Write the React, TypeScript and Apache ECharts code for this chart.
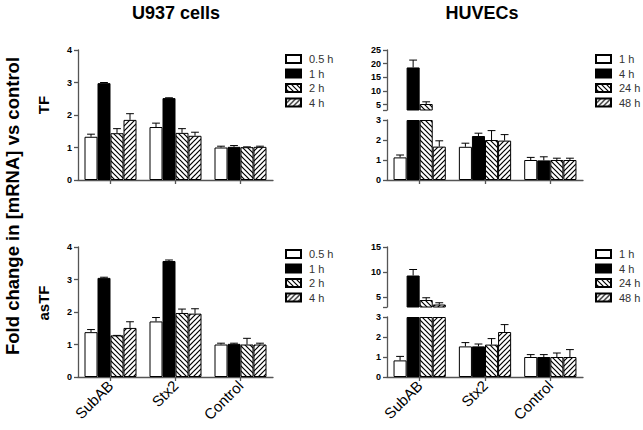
import React, { useEffect, useRef } from "react";
import * as echarts from "echarts";

// ---------- data ----------
const categories = ["SubAB", "Stx2", "Control"];
const u937Times = ["0.5 h", "1 h", "2 h", "4 h"];
const huvecTimes = ["1 h", "4 h", "24 h", "48 h"];

// rows = time points, columns = categories (SubAB, Stx2, Control)
const u937TFMean = [
  [1.33, 1.63, 1.0],
  [2.98, 2.52, 1.02],
  [1.44, 1.45, 1.01],
  [1.85, 1.36, 1.02],
];
const u937TFSem = [
  [0.08, 0.12, 0.04],
  [0.02, 0.01, 0.04],
  [0.14, 0.13, 0.01],
  [0.19, 0.11, 0.02],
];
const u937AsTFMean = [
  [1.38, 1.71, 1.0],
  [3.05, 3.57, 1.02],
  [1.28, 1.97, 1.0],
  [1.51, 1.95, 1.0],
];
const u937AsTFSem = [
  [0.08, 0.12, 0.04],
  [0.02, 0.03, 0.02],
  [0.0, 0.12, 0.19],
  [0.19, 0.15, 0.04],
];
const huvecTFMean = [
  [1.13, 1.66, 1.0],
  [18.6, 2.2, 0.98],
  [5.2, 2.0, 1.0],
  [1.67, 1.97, 1.0],
];
const huvecTFSem = [
  [0.12, 0.18, 0.13],
  [2.7, 0.14, 0.18],
  [0.8, 0.47, 0.09],
  [0.29, 0.3, 0.09],
];
const huvecAsTFMean = [
  [0.83, 1.53, 1.0],
  [9.3, 1.53, 1.0],
  [4.4, 1.62, 1.0],
  [3.5, 2.25, 1.0],
];
const huvecAsTFSem = [
  [0.2, 0.19, 0.12],
  [1.2, 0.12, 0.12],
  [0.45, 0.3, 0.2],
  [0.35, 0.37, 0.37],
];
const leftTicks = [0, 1, 2, 3, 4];
const tfUpperTicks = [5, 10, 15, 20, 25];
const asTFUpperTicks = [5, 10, 15];
const breakValue = 3;

const FONT = "'Liberation Sans', Arial, sans-serif";
const AXIS_COLOR = "#555";

function hatch(dir: number) {
  const s = 5;
  const c = document.createElement("canvas");
  c.width = s;
  c.height = s;
  const ctx = c.getContext("2d")!;
  ctx.fillStyle = "#fff";
  ctx.fillRect(0, 0, s, s);
  ctx.strokeStyle = "#000";
  ctx.lineWidth = 1.2;
  for (const k of [-s, 0, s]) {
    ctx.beginPath();
    if (dir > 0) {
      ctx.moveTo(k - 1, -1);
      ctx.lineTo(k + s + 1, s + 1);
    } else {
      ctx.moveTo(k - 1, s + 1);
      ctx.lineTo(k + s + 1, -1);
    }
    ctx.stroke();
  }
  return { image: c, repeat: "repeat", imageWidth: s, imageHeight: s };
}

function buildOption() {
  const fills: any[] = ["#fff", "#000", hatch(1), hatch(-1)];
  const panels = [
    { id: "tl", times: u937Times, mean: u937TFMean, sem: u937TFSem, upper: null as number[] | null, left: 78, width: 195, top: 50, showX: false, legendLeft: 285, legendTop: 53 },
    { id: "tr", times: huvecTimes, mean: huvecTFMean, sem: huvecTFSem, upper: tfUpperTicks, left: 387, width: 196, top: 50, showX: false, legendLeft: 595, legendTop: 53 },
    { id: "bl", times: u937Times, mean: u937AsTFMean, sem: u937AsTFSem, upper: null as number[] | null, left: 78, width: 195, top: 247, showX: true, legendLeft: 285, legendTop: 248 },
    { id: "br", times: huvecTimes, mean: huvecAsTFMean, sem: huvecAsTFSem, upper: asTFUpperTicks, left: 387, width: 196, top: 247, showX: true, legendLeft: 595, legendTop: 248 },
  ];

  const grid: any[] = [];
  const xAxis: any[] = [];
  const yAxis: any[] = [];
  const series: any[] = [];
  const legend: any[] = [];

  const axisLine = { show: true, lineStyle: { color: AXIS_COLOR, width: 1.3 } };
  const yLabel = { fontSize: 9, fontWeight: "bold", color: "#000", margin: 6, fontFamily: FONT };

  const errRender = (params: any, api: any) => {
    const cat = api.value(0);
    const s = api.value(1);
    const top = api.value(2);
    const base = api.value(3);
    const band = api.size([1, 0])[0];
    const bw = (band * 0.8) / 4;
    const p0 = api.coord([cat, base]);
    const p1 = api.coord([cat, top]);
    const x = p0[0] + (s - 1.5) * bw;
    const hw = bw * 0.3;
    const st = { stroke: "#000", lineWidth: 1 };
    return {
      type: "group",
      children: [
        { type: "line", shape: { x1: x, y1: p0[1], x2: x, y2: p1[1] }, style: st },
        { type: "line", shape: { x1: x - hw, y1: p1[1], x2: x + hw, y2: p1[1] }, style: st },
      ],
    };
  };

  const addGrid = (p: any, top: number, height: number, isBottom: boolean, yCfg: any) => {
    const gi = grid.length;
    grid.push({ left: p.left, top, width: p.width, height });
    xAxis.push({
      type: "category",
      gridIndex: gi,
      data: categories,
      show: isBottom,
      axisLine,
      axisTick: { show: true, alignWithLabel: true, length: 4, lineStyle: { color: AXIS_COLOR, width: 1.3 } },
      axisLabel: p.showX
        ? { show: true, rotate: 45, fontSize: 15, color: "#000", margin: 6, fontFamily: FONT }
        : { show: false },
    });
    yAxis.push({
      type: "value",
      gridIndex: gi,
      splitLine: { show: false },
      axisLine,
      ...yCfg,
    });
    return gi;
  };

  for (const p of panels) {
    const names = p.times.map((t) => `${p.id}|${t}`);
    const segments: { gi: number; lo: number; hi: number }[] = [];
    if (p.upper) {
      const giLow = addGrid(p, p.top + 70, 60, true, {
        min: 0,
        max: breakValue,
        interval: 1,
        axisTick: { show: true, length: 4, lineStyle: { color: AXIS_COLOR, width: 1.3 } },
        axisLabel: yLabel,
      });
      const giUp = addGrid(p, p.top, 60, false, {
        min: breakValue,
        max: p.upper[p.upper.length - 1],
        axisTick: { show: true, length: 4, customValues: [breakValue, ...p.upper], lineStyle: { color: AXIS_COLOR, width: 1.3 } },
        axisLabel: { ...yLabel, customValues: p.upper },
      });
      segments.push({ gi: giLow, lo: -Infinity, hi: breakValue });
      segments.push({ gi: giUp, lo: breakValue, hi: Infinity });
    } else {
      const gi = addGrid(p, p.top, 130, true, {
        min: leftTicks[0],
        max: leftTicks[leftTicks.length - 1],
        interval: 1,
        axisTick: { show: true, length: 4, lineStyle: { color: AXIS_COLOR, width: 1.3 } },
        axisLabel: yLabel,
      });
      segments.push({ gi, lo: -Infinity, hi: Infinity });
    }

    segments.forEach((seg, si) => {
      p.mean.forEach((vals: number[], ti: number) => {
        const data = vals.map((v) => {
          if (!p.upper) return v;
          if (si === 0) return Math.min(v, breakValue);
          return v > breakValue ? v : "-";
        });
        series.push({
          name: names[ti],
          type: "bar",
          xAxisIndex: seg.gi,
          yAxisIndex: seg.gi,
          data,
          barGap: "0%",
          barCategoryGap: "20%",
          itemStyle: { color: fills[ti], borderColor: "#000", borderWidth: 1 },
        });
      });
      const errData: number[][] = [];
      p.mean.forEach((vals: number[], ti: number) => {
        vals.forEach((v, ci) => {
          if (v > seg.lo && v <= seg.hi) errData.push([ci, ti, v + p.sem[ti][ci], v]);
        });
      });
      series.push({
        type: "custom",
        xAxisIndex: seg.gi,
        yAxisIndex: seg.gi,
        renderItem: errRender,
        encode: { x: 0, y: 2 },
        data: errData,
        z: 5,
        silent: true,
      });
    });

    legend.push({
      orient: "vertical",
      left: p.legendLeft,
      top: p.legendTop,
      padding: 0,
      itemWidth: 15,
      itemHeight: 8,
      itemGap: 2.5,
      icon: "rect",
      selectedMode: false,
      data: names,
      formatter: (n: string) => n.split("|")[1],
      textStyle: { fontSize: 11, color: "#333", fontFamily: FONT, lineHeight: 12, padding: [0, 0, 0, 3] },
    });
  }

  const graphic = [
    { type: "text", x: 176, y: 13, style: { text: "U937 cells", font: `bold 18px ${FONT}`, fill: "#000", textAlign: "center", textVerticalAlign: "middle" } },
    { type: "text", x: 482, y: 13, style: { text: "HUVECs", font: `bold 18px ${FONT}`, fill: "#000", textAlign: "center", textVerticalAlign: "middle" } },
    { type: "text", x: 12, y: 206, rotation: Math.PI / 2, style: { text: "Fold change in [mRNA] vs control", font: `bold 18.5px ${FONT}`, fill: "#000", textAlign: "center", textVerticalAlign: "middle" } },
    { type: "text", x: 43, y: 105, rotation: Math.PI / 2, style: { text: "TF", font: `bold 15px ${FONT}`, fill: "#000", textAlign: "center", textVerticalAlign: "middle" } },
    { type: "text", x: 43, y: 303, rotation: Math.PI / 2, style: { text: "asTF", font: `bold 15px ${FONT}`, fill: "#000", textAlign: "center", textVerticalAlign: "middle" } },
  ];

  return {
    animation: false,
    backgroundColor: "#fff",
    textStyle: { fontFamily: FONT },
    grid,
    xAxis,
    yAxis,
    series,
    legend,
    graphic,
  };
}

export default function App() {
  const ref = useRef<HTMLDivElement>(null);
  useEffect(() => {
    if (!ref.current) return;
    const chart = echarts.init(ref.current, undefined, { renderer: "svg" });
    chart.setOption(buildOption() as any);
    return () => chart.dispose();
  }, []);
  return (
    <div
      ref={ref}
      style={{ position: "fixed", left: 0, top: 0, width: 643, height: 430, background: "#fff" }}
    />
  );
}
